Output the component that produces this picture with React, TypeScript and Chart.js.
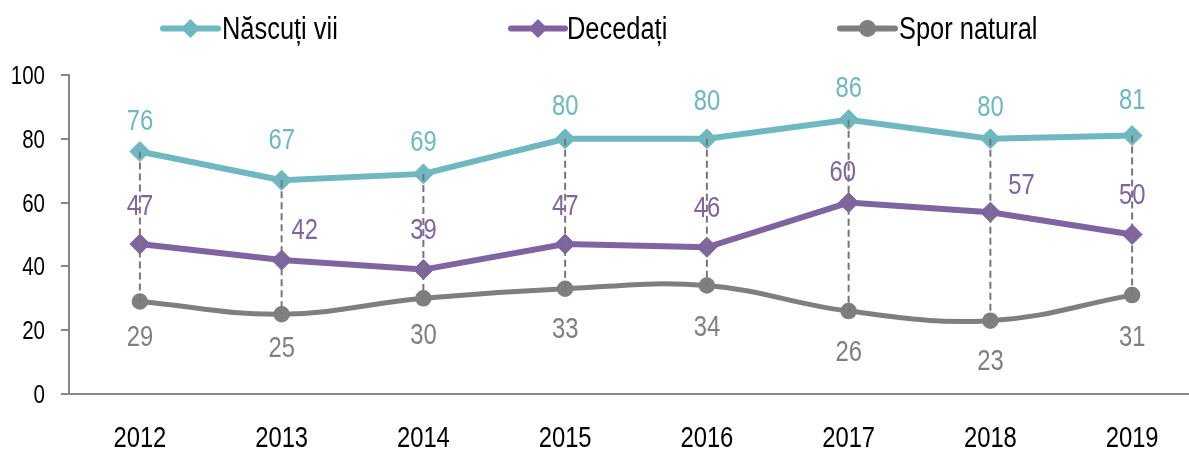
import React, { useEffect, useRef } from "react";
import { Chart, registerables } from "chart.js";

Chart.register(...registerables);

const years = ["2012", "2013", "2014", "2015", "2016", "2017", "2018", "2019"];
const nascutiVii = [76, 67, 69, 80, 80, 86, 80, 81];
const decedati = [47, 42, 39, 47, 46, 60, 57, 50];
const sporNatural = [29, 25, 30, 33, 34, 26, 23, 31];
const seriesNames = ["Născuți vii", "Decedați", "Spor natural"];
const yTickStep = 20;
const yMin = 0;
const yMax = 100;

// data-label placement (pixel offsets from each point), one list per series
const labelOffsets = [
  { dx: [0, 0, 0, 0, 0, 0, 0, 0], dy: [-32, -42, -33, -34, -39, -33, -33, -37] },
  { dx: [0, 23, 0, 0, 0, -6, 31, 0], dy: [-40, -32, -41, -40, -41, -32, -29, -41] },
  { dx: [0, 0, 0, 0, 0, 0, 0, 0], dy: [34.5, 32, 35, 39, 39.5, 39, 39, 40] },
];

const TEAL = "#6FB8C0";
const PURPLE = "#8064A2";
const GRAY = "#7F7F7F";
const DASH = "#777777";
const AXIS = "#878787";
const FONT = "'Liberation Sans', Arial, sans-serif";
const NARROW = 0.82;

function narrowText(ctx: CanvasRenderingContext2D, text: string, x: number, y: number, size: number, color: string, align: "left" | "center" | "right", baseline: CanvasTextBaseline) {
  ctx.save();
  ctx.font = `${size}px ${FONT}`;
  ctx.fillStyle = color;
  ctx.textAlign = align;
  ctx.textBaseline = baseline;
  ctx.translate(x, y);
  ctx.scale(NARROW, 1);
  ctx.fillText(text, 0, 0);
  ctx.restore();
}

const legendItems = [
  { name: seriesNames[0], color: TEAL, style: "diamond", x0: 163, x1: 218, tx: 222 },
  { name: seriesNames[1], color: PURPLE, style: "diamond", x0: 511, x1: 565, tx: 567 },
  { name: seriesNames[2], color: GRAY, style: "circle", x0: 840, x1: 895, tx: 899 },
];

const textPlugin = {
  id: "customText",
  afterDraw(chart: any) {
    const ctx = chart.ctx;
    // legend
    ctx.save();
    const y = 28.5;
    for (const it of legendItems) {
      ctx.strokeStyle = it.color;
      ctx.fillStyle = it.color;
      ctx.lineWidth = 6;
      ctx.lineCap = "round";
      ctx.beginPath();
      ctx.moveTo(it.x0, y);
      ctx.lineTo(it.x1, y);
      ctx.stroke();
      const cx = (it.x0 + it.x1) / 2;
      ctx.beginPath();
      if (it.style === "diamond") {
        const r = 9.5;
        ctx.moveTo(cx, y - r);
        ctx.lineTo(cx + r, y);
        ctx.lineTo(cx, y + r);
        ctx.lineTo(cx - r, y);
        ctx.closePath();
      } else {
        ctx.arc(cx, y, 8.5, 0, Math.PI * 2);
      }
      ctx.fill();
      narrowText(ctx, it.name, it.tx, 38.5, 31, "#000", "left", "alphabetic");
    }
    ctx.restore();

    // axis tick labels
    const xs = chart.scales.x;
    const ys = chart.scales.y;
    years.forEach((yr, i) => {
      narrowText(ctx, yr, xs.getPixelForValue(i), 447, 29, "#000", "center", "alphabetic");
    });
    ys.ticks.forEach((t: any) => {
      narrowText(ctx, String(t.value), ys.left + ys.width - 8 - 16, ys.getPixelForValue(t.value) + 9, 25, "#000", "right", "alphabetic");
    });
  },
  afterDatasetsDraw(chart: any) {
    const ctx = chart.ctx;
    const xs = chart.scales.x;
    const ys = chart.scales.y;
    ctx.save();
    ctx.strokeStyle = DASH;
    ctx.lineWidth = 2;
    ctx.setLineDash([7, 4]);
    years.forEach((_, i) => {
      const vals = [nascutiVii[i], decedati[i], sporNatural[i]];
      const hi = Math.max(...vals);
      const lo = Math.min(...vals);
      const x = xs.getPixelForValue(i);
      ctx.beginPath();
      ctx.moveTo(x, ys.getPixelForValue(hi));
      ctx.lineTo(x, ys.getPixelForValue(lo));
      ctx.stroke();
    });
    ctx.restore();

    // data labels
    chart.data.datasets.forEach((ds: any, di: number) => {
      const meta = chart.getDatasetMeta(di);
      const off = labelOffsets[di];
      meta.data.forEach((pt: any, i: number) => {
        narrowText(ctx, String(ds.data[i]), pt.x + off.dx[i], pt.y + off.dy[i] + 10.5, 29, ds.borderColor, "center", "alphabetic");
      });
    });
  },
};

export default function App() {
  const ref = useRef<HTMLCanvasElement | null>(null);
  useEffect(() => {
    if (!ref.current) return;
    const chart = new Chart(ref.current, {
      type: "line",
      data: {
        labels: years,
        datasets: [
          {
            label: seriesNames[0],
            data: nascutiVii,
            borderColor: TEAL,
            backgroundColor: TEAL,
            borderWidth: 6,
            pointStyle: "rectRot",
            pointRadius: 10,
            pointBorderWidth: 1,
            tension: 0,
          },
          {
            label: seriesNames[1],
            data: decedati,
            borderColor: PURPLE,
            backgroundColor: PURPLE,
            borderWidth: 6,
            pointStyle: "rectRot",
            pointRadius: 10,
            pointBorderWidth: 1,
            tension: 0,
          },
          {
            label: seriesNames[2],
            data: sporNatural,
            borderColor: GRAY,
            backgroundColor: GRAY,
            borderWidth: 5,
            pointStyle: "circle",
            pointRadius: 7.5,
            pointBorderWidth: 1.5,
            tension: 0.4,
          },
        ],
      },
      options: {
        responsive: false,
        animation: false,
        layout: { padding: { top: 75, left: 0, right: 0, bottom: 0 } },
        plugins: { legend: { display: false }, tooltip: { enabled: false } },
        scales: {
          x: {
            type: "category",
            offset: true,
            grid: { display: false, drawTicks: false },
            border: { display: true, color: AXIS, width: 2 },
            ticks: { font: { family: FONT, size: 12 }, color: "rgba(0,0,0,0)", padding: 0 },
            afterFit: (s: any) => {
              s.height = 56;
              s.paddingLeft = 0;
              s.paddingRight = 0;
            },
          },
          y: {
            min: yMin,
            max: yMax,
            ticks: { stepSize: yTickStep, font: { family: FONT, size: 12 }, color: "rgba(0,0,0,0)", padding: 16 },
            grid: { drawOnChartArea: false, drawTicks: true, tickLength: 8, color: AXIS, lineWidth: 2 },
            border: { display: true, color: AXIS, width: 2 },
            afterFit: (s: any) => {
              s.width = 69;
            },
          },
        },
      },
      plugins: [textPlugin],
    } as any);
    return () => chart.destroy();
  }, []);
  return (
    <div style={{ position: "fixed", left: 0, top: 0, width: 1189, height: 450, overflow: "hidden", background: "#fff" }}>
      <canvas ref={ref} width={1214} height={450} style={{ display: "block" }} />
    </div>
  );
}
